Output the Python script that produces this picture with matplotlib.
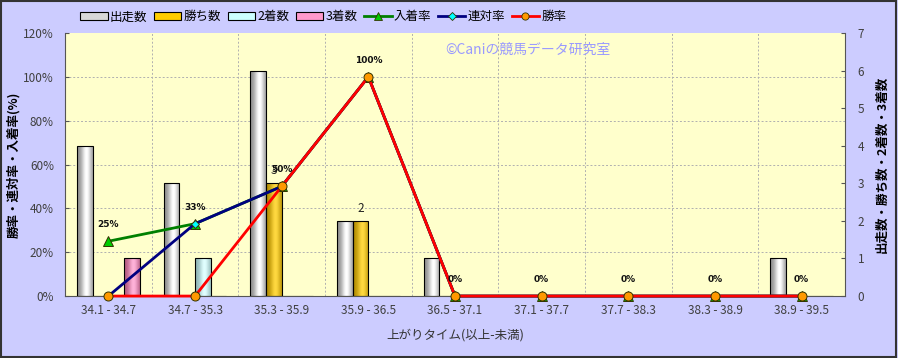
import numpy as np
import matplotlib
matplotlib.use('Agg')
from matplotlib import pyplot as plt
from matplotlib.patches import Rectangle
from matplotlib.lines import Line2D

plt.rcParams['font.family'] = ['Noto Sans CJK JP', 'DejaVu Sans']

categories = ['34.1 - 34.7', '34.7 - 35.3', '35.3 - 35.9', '35.9 - 36.5', '36.5 - 37.1',
              '37.1 - 37.7', '37.7 - 38.3', '38.3 - 38.9', '38.9 - 39.5']
runs = [4, 3, 6, 2, 1, 0, 0, 0, 1]
wins = [0, 0, 3, 2, 0, 0, 0, 0, 0]
seconds = [0, 1, 0, 0, 0, 0, 0, 0, 0]
thirds = [1, 0, 0, 0, 0, 0, 0, 0, 0]
place_rate = [25, 33, 50, 100, 0, 0, 0, 0, 0]
rentai_rate = [0, 33, 50, 100, 0, 0, 0, 0, 0]
win_rate = [0, 0, 50, 100, 0, 0, 0, 0, 0]

bar_series = [
    ('出走数', runs, (0.55, 0.55, 0.55), (1.0, 1.0, 1.0), '#d8d8d8'),
    ('勝ち数', wins, (0.70, 0.55, 0.0), (1.0, 0.85, 0.25), '#ffcc00'),
    ('2着数', seconds, (0.55, 0.70, 0.70), (0.88, 1.0, 1.0), '#ccffff'),
    ('3着数', thirds, (0.70, 0.35, 0.50), (1.0, 0.70, 0.85), '#ff99cc'),
]
line_series = [
    ('入着率', place_rate, '#008000', '^', '#00cc00', 7),
    ('連対率', rentai_rate, '#000080', 'D', '#00ffff', 4.5),
    ('勝率', win_rate, '#ff0000', 'o', '#ff9900', 6.5),
]


def gradient(dark, light, n=64):
    t = np.linspace(0, 1, n)
    p = np.exp(-((t - 0.6) / 0.32) ** 2)
    dark = np.array(dark)
    light = np.array(light)
    row = dark[None, :] + (light - dark)[None, :] * p[:, None]
    return row[None, :, :]


fig = plt.figure(figsize=(8.98, 3.58), dpi=100, facecolor='#ccccff')
ax = fig.add_axes([0.0724, 0.173, 0.8686, 0.735])
ax.set_facecolor('#ffffcc')
x = np.arange(len(categories))
bw = 0.18

# bars on the count axis
ax.set_xlim(-0.5, len(categories) - 0.5)
ax.set_ylim(0, 7)
for k, (name, vals, dark, light, _) in enumerate(bar_series):
    bars = ax.bar(x + (k - 1.5) * bw, vals, bw, facecolor='none', edgecolor='black',
                  linewidth=0.8, zorder=3)
    img = gradient(dark, light)
    for b in bars:
        if b.get_height() <= 0:
            continue
        im = ax.imshow(img, extent=(b.get_x(), b.get_x() + b.get_width(), 0, b.get_height()),
                       aspect='auto', zorder=2, interpolation='bilinear')
        im.set_clip_path(b)
    if name == '勝ち数':
        for b, v in zip(bars, vals):
            if v > 0:
                ax.annotate(str(v), (b.get_x() + b.get_width() / 2, v), xytext=(0, 9),
                            textcoords='offset points', ha='center', va='center',
                            fontsize=8.5, color='#222222', zorder=6)

ax.set_xlim(-0.5, len(categories) - 0.5)
ax.set_ylim(0, 7)
ax.set_yticks(range(8))
ax.set_xticks(x)
ax.set_xticklabels(categories)
ax.set_xticks(x[:-1] + 0.5, minor=True)
ax.set_yticks(np.arange(20, 121, 20) / 120 * 7, minor=True)
ax.grid(which='minor', color='#b0b0b0', linestyle=(0, (2, 2)), linewidth=0.7, zorder=0)
ax.set_axisbelow(True)
ax.tick_params(axis='x', length=0, labelsize=8.5, labelcolor='#404040', pad=6)
ax.set_xlabel('上がりタイム(以上-未満)', fontsize=9, color='#333333', labelpad=8)
ax.spines['top'].set_visible(False)
for s in ['right', 'left', 'bottom']:
    ax.spines[s].set_color('#555555')

# lines on the percent axis
ax2 = ax.twinx()
ax.yaxis.tick_right()
ax.yaxis.set_label_position('right')
ax.tick_params(which='minor', length=0)
ax.tick_params(axis='y', which='major', direction='in', length=3, labelsize=8.5,
               labelcolor='#404040', pad=9, color='#555555')
ax.set_ylabel('出走数・勝ち数・2着数・3着数', fontsize=9, fontweight='bold', rotation=90,
              labelpad=8)

ax2.yaxis.tick_left()
ax2.yaxis.set_label_position('left')
ax2.set_ylim(0, 120)
ax2.set_yticks(range(0, 121, 20))
ax2.set_yticklabels(['%d%%' % v for v in range(0, 121, 20)])
ax2.tick_params(axis='y', direction='in', length=3, labelsize=8.5, labelcolor='#404040',
                pad=8, color='#555555')
ax2.set_ylabel('勝率・連対率・入着率(%)', fontsize=9, fontweight='bold', labelpad=2)
for s in ax2.spines.values():
    s.set_visible(False)

for name, vals, lc, mk, mc, ms in line_series:
    ax2.plot(x, vals, color=lc, linewidth=2, marker=mk, markersize=ms,
             markerfacecolor=mc, markeredgecolor='#333300', markeredgewidth=0.7,
             zorder=4, clip_on=False)

for xi, v in zip(x, place_rate):
    ax2.annotate('%d%%' % v, (xi, v), xytext=(0, 12), textcoords='offset points',
                 ha='center', va='center', fontsize=6.5, fontweight='bold',
                 family='DejaVu Sans', color='#111111', zorder=6)

ax2.text(0.487, 0.935, '©Caniの競馬データ研究室', transform=ax2.transAxes,
         fontsize=10, color='#9999ff', ha='left', va='center')

handles = [Rectangle((0, 0), 1, 1, facecolor=c, edgecolor='black', linewidth=0.8)
           for _, _, _, _, c in bar_series]
handles += [Line2D([0], [0], color=lc, linewidth=2, marker=mk, markersize=ms * 0.8,
                   markerfacecolor=mc, markeredgecolor='#333300', markeredgewidth=0.6)
            for _, _, lc, mk, mc, ms in line_series]
labels = [b[0] for b in bar_series] + [l[0] for l in line_series]
fig.legend(handles, labels, loc='center', bbox_to_anchor=(0.36, 0.953), ncol=7,
           frameon=False, fontsize=9, handlelength=2.2, handleheight=0.6,
           handletextpad=0.2, columnspacing=0.5)

fig.patches.append(Rectangle((0.001, 0.002), 0.997, 0.996, transform=fig.transFigure,
                             fill=False, edgecolor='#333333', linewidth=1.5))

fig.savefig('out.png', dpi=100, facecolor=fig.get_facecolor())
